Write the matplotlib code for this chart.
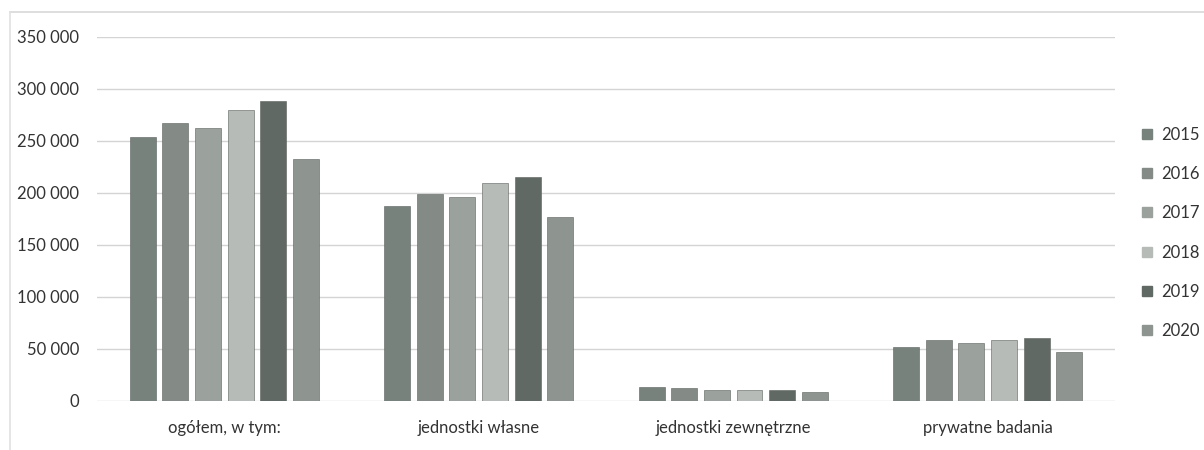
import matplotlib
matplotlib.use('Agg')
import numpy as np
import matplotlib.pyplot as plt
from matplotlib.lines import Line2D
from matplotlib.ticker import FuncFormatter

plt.rcParams['font.family'] = ['Lato', 'DejaVu Sans']

categories = ["ogółem, w tym:", "jednostki własne", "jednostki zewnętrzne", "prywatne badania"]
years = ["2015", "2016", "2017", "2018", "2019", "2020"]

v2015 = [254000, 187500, 13800, 51600]
v2016 = [267000, 199000, 12500, 59000]
v2017 = [262500, 196000, 10600, 55400]
v2018 = [280000, 210000, 10600, 58600]
v2019 = [288500, 215000, 10500, 60500]
v2020 = [232700, 177000, 9000, 46800]

series = [v2015, v2016, v2017, v2018, v2019, v2020]
colors = ['#77827c', '#848b86', '#9ba19d', '#b6bbb7', '#606964', '#8e9591']

fig = plt.figure(figsize=(12.04, 4.5), dpi=100)
ax = fig.add_axes([0.0806, 0.109, 0.8454, 0.809])

x = np.arange(len(categories))
slot = 0.128
bw = 0.102
for i, (vals, col) in enumerate(zip(series, colors)):
    off = (i - 2.5) * slot
    ax.bar(x + off, vals, bw, color=col, edgecolor='#5a605c', linewidth=0.4,
           label=years[i], zorder=3)

ax.set_xlim(-0.5, 3.5)
ax.set_ylim(0, 350000)
ax.set_yticks(np.arange(0, 350001, 50000))
ax.yaxis.set_major_formatter(FuncFormatter(lambda v, p: f"{int(v):,}".replace(",", " ")))
ax.set_xticks(x)
ax.set_xticklabels(categories)
ax.tick_params(axis='both', length=0, labelsize=12, colors='#333333')
ax.tick_params(axis='x', pad=14)
ax.tick_params(axis='y', pad=13)
ax.grid(axis='y', color='#d4d4d4', linewidth=1, zorder=0)
for s in ax.spines.values():
    s.set_visible(False)

handles = [Line2D([0], [0], marker='s', color='w', markerfacecolor=c,
                  markeredgecolor=c, markersize=7, linestyle='') for c in colors]
fig.legend(handles, years, loc='upper left', bbox_to_anchor=(0.935, 0.752),
           frameon=False, fontsize=12, labelspacing=1.4, handlelength=0.8,
           handletextpad=0.4, labelcolor='#333333')

# faint outer frame of the scanned chart
fig.add_artist(Line2D([0.008, 1.0], [0.973, 0.973], color='#d8d8d8', linewidth=1.2))
fig.add_artist(Line2D([0.008, 0.008], [0.0, 0.973], color='#e0e0e0', linewidth=1.2))

fig.savefig('out.png', dpi=100)
